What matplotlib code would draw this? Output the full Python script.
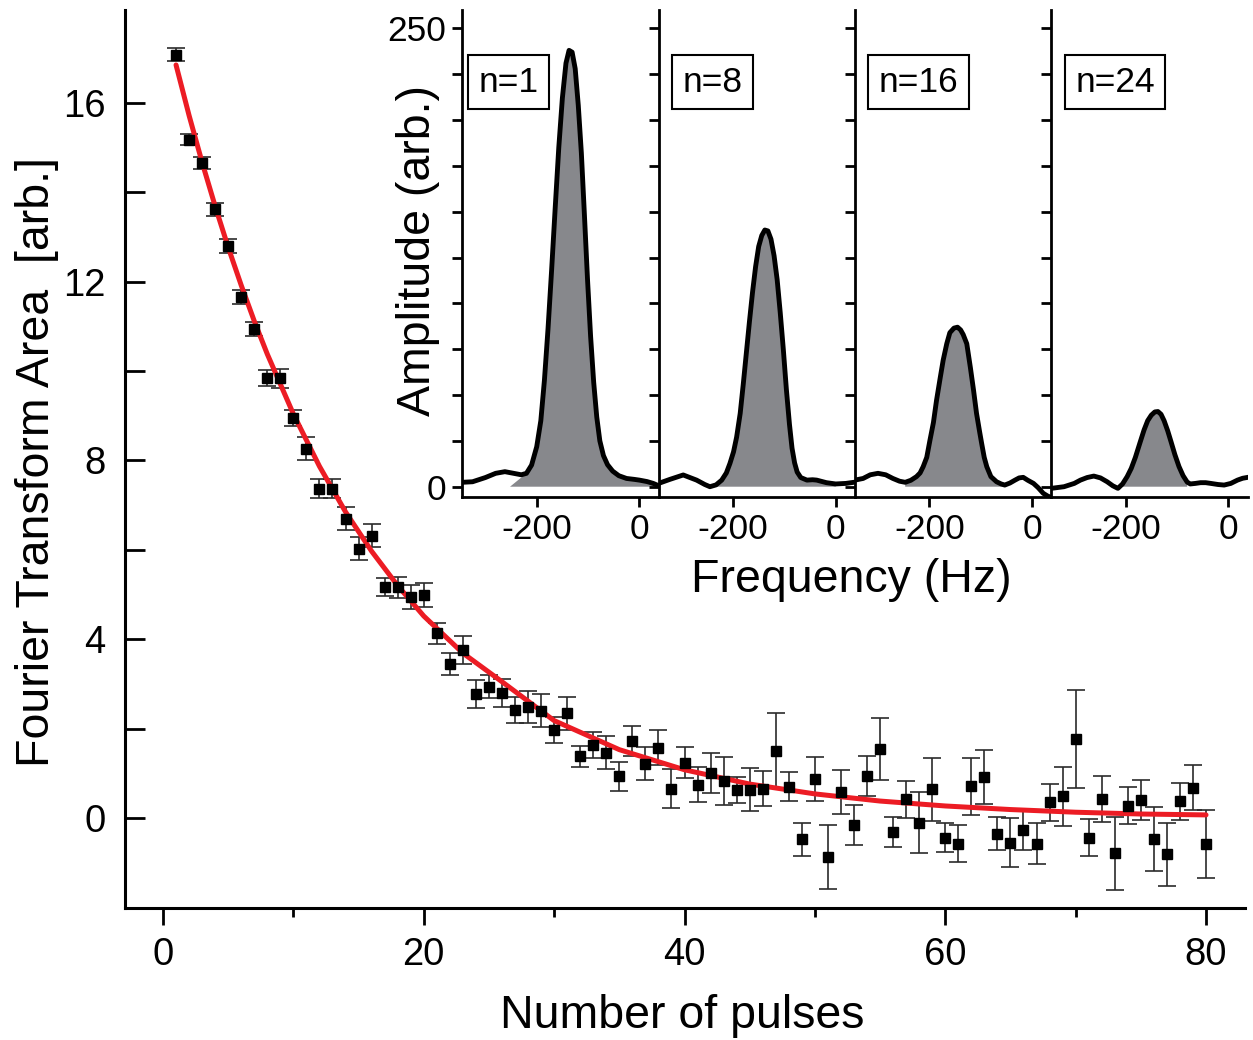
import numpy as np
import matplotlib
matplotlib.use('Agg')
import matplotlib.pyplot as plt

plt.rcParams['font.family'] = ['Liberation Sans', 'DejaVu Sans']

# main panel: area vs number of pulses
pulses = np.arange(1, 81)
area = [17.08, 15.18, 14.65, 13.62, 12.80, 11.66, 10.95, 9.85, 9.84, 8.96,
        8.26, 7.37, 7.37, 6.70, 6.03, 6.32, 5.17, 5.16, 4.94, 5.00,
        4.13, 3.44, 3.76, 2.77, 2.94, 2.79, 2.42, 2.49, 2.40, 1.97,
        2.34, 1.38, 1.63, 1.46, 0.93, 1.72, 1.22, 1.57, 0.66, 1.24,
        0.75, 1.01, 0.83, 0.63, 0.63, 0.66, 1.51, 0.70, -0.48, 0.88,
        -0.87, 0.58, -0.16, 0.94, 1.54, -0.31, 0.42, -0.10, 0.64, -0.44,
        -0.57, 0.71, 0.92, -0.35, -0.55, -0.26, -0.57, 0.35, 0.49, 1.77,
        -0.44, 0.43, -0.79, 0.28, 0.41, -0.47, -0.81, 0.37, 0.68, -0.58]
area_err = [0.15, 0.13, 0.13, 0.15, 0.16, 0.15, 0.16, 0.18, 0.21, 0.18,
            0.26, 0.22, 0.22, 0.25, 0.25, 0.26, 0.21, 0.23, 0.27, 0.27,
            0.24, 0.25, 0.32, 0.31, 0.25, 0.31, 0.29, 0.36, 0.37, 0.30,
            0.37, 0.23, 0.29, 0.37, 0.32, 0.33, 0.36, 0.39, 0.43, 0.34,
            0.39, 0.45, 0.54, 0.29, 0.48, 0.40, 0.84, 0.32, 0.38, 0.49,
            0.71, 0.50, 0.45, 0.45, 0.69, 0.33, 0.41, 0.69, 0.70, 0.32,
            0.42, 0.64, 0.60, 0.37, 0.54, 0.45, 0.45, 0.42, 0.66, 1.10,
            0.41, 0.52, 0.81, 0.41, 0.45, 0.72, 0.70, 0.41, 0.50, 0.76]

# red fit curve
fit_n = [1, 2, 3, 4, 5, 6, 7, 8, 10, 12, 14, 16, 18, 20, 23, 26, 30,
         35, 40, 45, 50, 55, 60, 65, 70, 75, 80]
fit_area = [16.85, 15.72, 14.67, 13.69, 12.77, 11.92, 11.12, 10.38, 9.04,
            7.87, 6.85, 5.97, 5.20, 4.52, 3.69, 3.05, 2.18, 1.53, 1.08,
            0.76, 0.54, 0.38, 0.27, 0.19, 0.13, 0.09, 0.07]

# inset: spectra for 4 pulse numbers
panel_labels = ['n=1', 'n=8', 'n=16', 'n=24']
freq_1 = [-345, -325, -300, -280, -262, -245, -230, -220, -210, -200, -192,
          -185, -178, -171, -164, -157, -150, -143, -137, -131, -125, -119,
          -113, -107, -101, -95, -89, -83, -77, -70, -62, -52, -40, -25,
          -10, 0, 15, 27, 38]
amp_1 = [2.4, 2.7, 5.0, 7.3, 8.2, 7.3, 6.5, 7.3, 11.8, 21.8, 36, 58, 86,
         118, 152, 185, 212, 231, 238, 237, 228, 208, 182, 148, 113, 82,
         57, 38, 25, 17, 12, 8.5, 6, 4.5, 4, 3.6, 2.8, 1.8, 0.5]
freq_8 = [-345, -323, -297, -271, -255, -245, -233, -222, -213, -206, -199,
          -193, -186, -180, -174, -168, -162, -156, -150, -144, -138, -132,
          -126, -120, -114, -108, -102, -96, -90, -85, -80, -75, -68, -56,
          -45, -37, -18, 0, 20, 38]
amp_8 = [1.8, 4, 6.4, 3.6, 1.2, 0, 1, 3.6, 7.5, 12.7, 19, 27, 40, 56, 73,
         90, 106, 120, 131, 137, 140, 139.5, 135, 126, 113, 95, 75, 53, 34,
         21, 13, 8, 5, 3.6, 3.8, 3.6, 2.2, 1.5, 1.8, 2.5]
freq_16 = [-345, -329, -315, -300, -285, -271, -258, -247, -236, -225, -218,
           -212, -205, -199, -192, -186, -179, -173, -166, -160, -152, -145,
           -139, -134, -127, -120, -114, -108, -102, -98, -93, -88, -80, -69,
           -60, -53, -43, -33, -25, -17, -8, 3, 12, 22, 30, 38]
amp_16 = [3.6, 4.5, 6.5, 7.3, 6.5, 4.5, 3, 2.4, 3.5, 5.5, 7.5, 10.9, 16, 25,
          35, 47, 59, 69, 78, 84, 86.5, 87, 85.5, 83, 78, 65, 53, 40, 30,
          23.6, 16, 10.9, 5.5, 2.7, 1.5, 0.9, 2, 3.6, 4.8, 5.1, 3.5, 1.8,
          -0.5, -3.6, -5, -6]
freq_24 = [-345, -320, -300, -288, -275, -262, -249, -236, -225, -215, -206,
           -197, -189, -181, -172, -164, -157, -150, -143, -137, -131, -125,
           -118, -112, -104, -96, -88, -80, -74, -64, -54, -44, -34, -20, -8,
           5, 18, 28, 38]
amp_24 = [-0.9, 0, 1.8, 3.6, 5, 5.8, 4.8, 2.7, 0.5, -0.9, 1.5, 5.5, 10, 16,
          24, 31, 36, 39, 40.8, 41, 39.5, 36, 30.5, 25, 17.5, 11, 6, 2.5,
          1.5, 1.8, 2.2, 2.2, 1.8, 1.2, 0.9, 1.8, 3.6, 4.6, 5.1]
spectra = [(freq_1, amp_1), (freq_8, amp_8), (freq_16, amp_16), (freq_24, amp_24)]
# shaded region of each peak
fill_start = [-252, -245, -247, -215]
fill_join = [-223, -245, -247, -215]
fill_end = [38, 0, -53, -77]

W, H = 1253, 1040
fig = plt.figure(figsize=(W / 100, H / 100), dpi=100)

ax = fig.add_axes([125 / W, 1 - 908 / H, 1120 / W, 898 / H])
ax.errorbar(pulses, area, yerr=area_err, fmt='none', ecolor='#2b2b2b',
            elinewidth=1.2, capsize=6.2, capthick=1.2, zorder=2)
ax.plot(fit_n, fit_area, color='#ec1c24', lw=3.6, zorder=3,
        solid_capstyle='round')
ax.plot(pulses, area, 's', color='black', ms=6.8, zorder=4)

ax.set_xlim(-2.915, 82.99)
ax.set_ylim(-2.013, 18.08)
ax.set_xticks([0, 20, 40, 60, 80])
ax.set_xticks([10, 30, 50, 70], minor=True)
ax.set_yticks([0, 4, 8, 12, 16])
ax.set_yticks([2, 6, 10, 14], minor=True)
for s in ['top', 'right']:
    ax.spines[s].set_visible(False)
for s in ['left', 'bottom']:
    ax.spines[s].set_linewidth(2.2)
ax.tick_params(axis='x', which='major', direction='out', length=12, width=2,
               labelsize=27.5, pad=9)
ax.tick_params(axis='x', which='minor', direction='out', length=6.5, width=2)
ax.tick_params(axis='y', which='both', direction='in', length=14.5, width=2,
               labelsize=27.5, pad=14)

fig.text(49 / W, 1 - 462 / H, 'Fourier Transform Area  [arb.]', rotation=90,
         rotation_mode='anchor', ha='center', va='baseline', fontsize=33.5)
fig.text(682 / W, 1 - 1028 / H, 'Number of pulses', ha='center',
         va='baseline', fontsize=33.5)

# inset panels
for k in range(4):
    f, a = spectra[k]
    f = np.array(f)
    a = np.array(a)
    axi = fig.add_axes([(462.3 + 196.3 * k) / W, 1 - 496.7 / H, 196.3 / W, 486.7 / H])
    axi.patch.set_alpha(0)
    m = (f >= fill_join[k]) & (f <= fill_end[k])
    px = np.concatenate([[fill_start[k]], f[m], [f[m][-1]]])
    py = np.concatenate([[0], a[m], [0]])
    axi.fill(px, py, color='#87888c', lw=0, zorder=1)
    axi.plot(f, a, color='black', lw=3.5, zorder=2)
    axi.set_xlim(-345, 37.5)
    axi.set_ylim(-5.45, 260)
    for s in ['top', 'right']:
        axi.spines[s].set_visible(False)
    for s in ['left', 'bottom']:
        axi.spines[s].set_linewidth(2)
    axi.set_xticks([-200, 0])
    axi.set_xticklabels(['-200', '0'])
    axi.set_yticks(np.arange(0, 251, 25))
    if k == 0:
        axi.set_yticklabels(['0'] + [''] * 9 + ['250'])
    else:
        axi.tick_params(axis='y', labelleft=False)
    axi.tick_params(direction='out', length=7.5, width=2, labelsize=25.5, pad=4)
    bx = 0.0835 if k == 0 else 0.122
    axi.text(bx, 0.852, panel_labels[k], transform=axi.transAxes, fontsize=25.5,
             ha='left', va='center',
             bbox=dict(boxstyle='square,pad=0.3', fc='white', ec='black', lw=1.5))

fig.text(430 / W, 1 - 250 / H, 'Amplitude (arb.)', rotation=90,
         rotation_mode='anchor', ha='center', va='baseline', fontsize=33.5)
fig.text(851 / W, 1 - 592 / H, 'Frequency (Hz)', ha='center', va='baseline',
         fontsize=33.5)

fig.savefig('out.png', dpi=100)
